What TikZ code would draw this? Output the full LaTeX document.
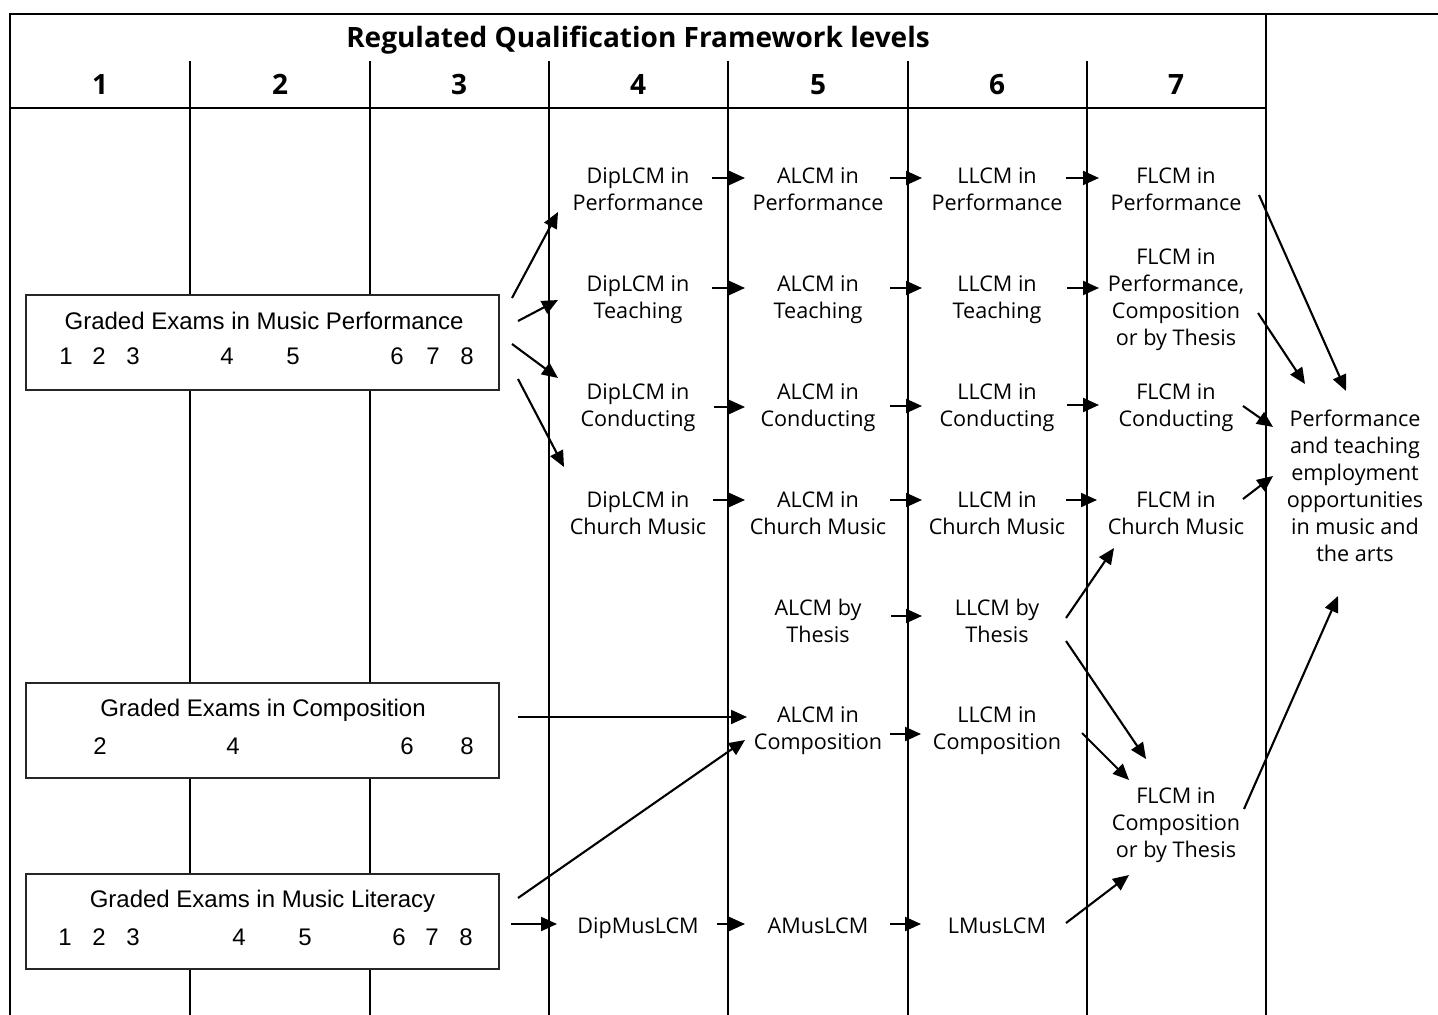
\documentclass[tikz,border=0pt]{standalone}
\usepackage{fontspec}
\setmainfont{Open Sans}
\newfontfamily\arialfont{Liberation Sans}
\usetikzlibrary{arrows.meta}
\begin{document}
\begin{tikzpicture}[x=0.5pt,y=-0.5pt,
  grid/.style={line width=1.3pt},
  arr/.style={line width=1.05pt,-{Triangle[length=8pt,width=7pt]}},
  lbl/.style={align=center,font=\fontsize{10.8}{13.5}\selectfont,inner sep=0pt,
     execute at begin node={\strut},execute at end node={\strut}},
  exambox/.style={draw=black!85,line width=0.95pt,fill=white,minimum width=236.5pt,minimum height=47.5pt,inner sep=0pt},
  boxtxt/.style={font=\arialfont\fontsize{12}{14}\selectfont,inner sep=0pt,anchor=base},
  hdr/.style={font=\bfseries\fontsize{14}{16}\selectfont,inner sep=0pt,anchor=base}]
\useasboundingbox (0,0) rectangle (1438,1015);
% grid
\draw[grid] (10,1015) -- (10,14) -- (1438,14);
\draw[grid] (1266,14) -- (1266,1015);
\draw[grid] (10,108) -- (1266,108);
\foreach \x in {190,370,549,728,908,1087} \draw[grid] (\x,61) -- (\x,1015);
% header
\node[hdr] (title) at (638,48) {Regulated Qualification Framework levels};
\foreach \n/\x in {1/100,2/280,3/459,4/638,5/818,6/997,7/1176}
  \node[hdr] (lev\n) at (\x,95) {\n};
% exam boxes
\node[exambox] (bperf) at (262.5,342.5) {};
\node[exambox] (bcomp) at (262.5,730.5) {};
\node[exambox] (blit) at (262.5,921.5) {};
\node[boxtxt] (bperft) at (264,330) {Graded Exams in Music Performance};
\node[boxtxt] (bcompt) at (263,716) {Graded Exams in Composition};
\node[boxtxt] (blitt) at (262.5,907) {Graded Exams in Music Literacy};
\foreach \n/\x in {1/66,2/99,3/133,4/227,5/293,6/397,7/433,8/467}
  \node[boxtxt] (pg\n) at (\x,365) {\n};
\foreach \n/\x in {2/100,4/233,6/407,8/467}
  \node[boxtxt] (cg\n) at (\x,754) {\n};
\foreach \n/\x in {1/65,2/99,3/133,4/239,5/305,6/399,7/432,8/466}
  \node[boxtxt] (lg\n) at (\x,945) {\n};
% level 4
\node[lbl] (d1) at (638,193.1) {DipLCM in\\Performance};
\node[lbl] (d2) at (638,301.1) {DipLCM in\\Teaching};
\node[lbl] (d3) at (638,409.1) {DipLCM in\\Conducting};
\node[lbl] (d4) at (638,517.1) {DipLCM in\\Church Music};
\node[lbl] (dm) at (638,927.6) {DipMusLCM};
% level 5
\node[lbl] (a1) at (818,193.1) {ALCM in\\Performance};
\node[lbl] (a2) at (818,301.1) {ALCM in\\Teaching};
\node[lbl] (a3) at (818,409.1) {ALCM in\\Conducting};
\node[lbl] (a4) at (818,517.1) {ALCM in\\Church Music};
\node[lbl] (a5) at (818,625.1) {ALCM by\\Thesis};
\node[lbl] (a6) at (818,732.1) {ALCM in\\Composition};
\node[lbl] (am) at (818,927.6) {AMusLCM};
% level 6
\node[lbl] (l1) at (997,193.1) {LLCM in\\Performance};
\node[lbl] (l2) at (997,301.1) {LLCM in\\Teaching};
\node[lbl] (l3) at (997,409.1) {LLCM in\\Conducting};
\node[lbl] (l4) at (997,517.1) {LLCM in\\Church Music};
\node[lbl] (l5) at (997,625.1) {LLCM by\\Thesis};
\node[lbl] (l6) at (997,732.1) {LLCM in\\Composition};
\node[lbl] (lm) at (997,927.6) {LMusLCM};
% level 7
\node[lbl] (f1) at (1176,193.1) {FLCM in\\Performance};
\node[lbl] (f2) at (1176,301.1) {FLCM in\\Performance,\\Composition\\or by Thesis};
\node[lbl] (f3) at (1176,409.1) {FLCM in\\Conducting};
\node[lbl] (f4) at (1176,517.1) {FLCM in\\Church Music};
\node[lbl] (f5) at (1176,826.6) {FLCM in\\Composition\\or by Thesis};
% outcome
\node[lbl] (out) at (1355,490.1) {Performance\\and teaching\\employment\\opportunities\\in music and\\the arts};
% connectors
\foreach \n/\xa/\ya/\xb/\yb in {
  r1/712/178/745/178, r2/890/178/922/178, r3/1066/178/1099/178,
  r4/712/288/745/288, r5/890/288/922/288, r6/1067/288/1099/288,
  r7/714/407/745/407, r8/890/406/922/406, r9/1067/405/1099/405,
  r10/713/500/745/500, r11/890/500/922/500, r12/1066/500/1097/500,
  r13/891/616/922/616, r14/890/734/921/734,
  r15/511/924/557/924, r16/717/924/745/924, r17/890/924/921/924,
  p1/512/298/558/212, p2/518/321/558/300, p3/512/344/558/378, p4/518/379/564/467,
  c1/518/717/747/717, m1/518/898/745/740,
  t1/1066/618/1114/548, t2/1066/641/1146/759, t3/1082/733/1129/780, t4/1066/923/1129/875,
  o1/1259/195/1346/391, o2/1258/313/1305/384, o3/1243/406/1273/427,
  o4/1243/499/1273/476, o5/1244/809/1338/596}
{
  \coordinate (s\n) at (\xa,\ya);
  \coordinate (e\n) at (\xb,\yb);
  \draw[arr] (s\n) -- (e\n);
}
\end{tikzpicture}
\end{document}
